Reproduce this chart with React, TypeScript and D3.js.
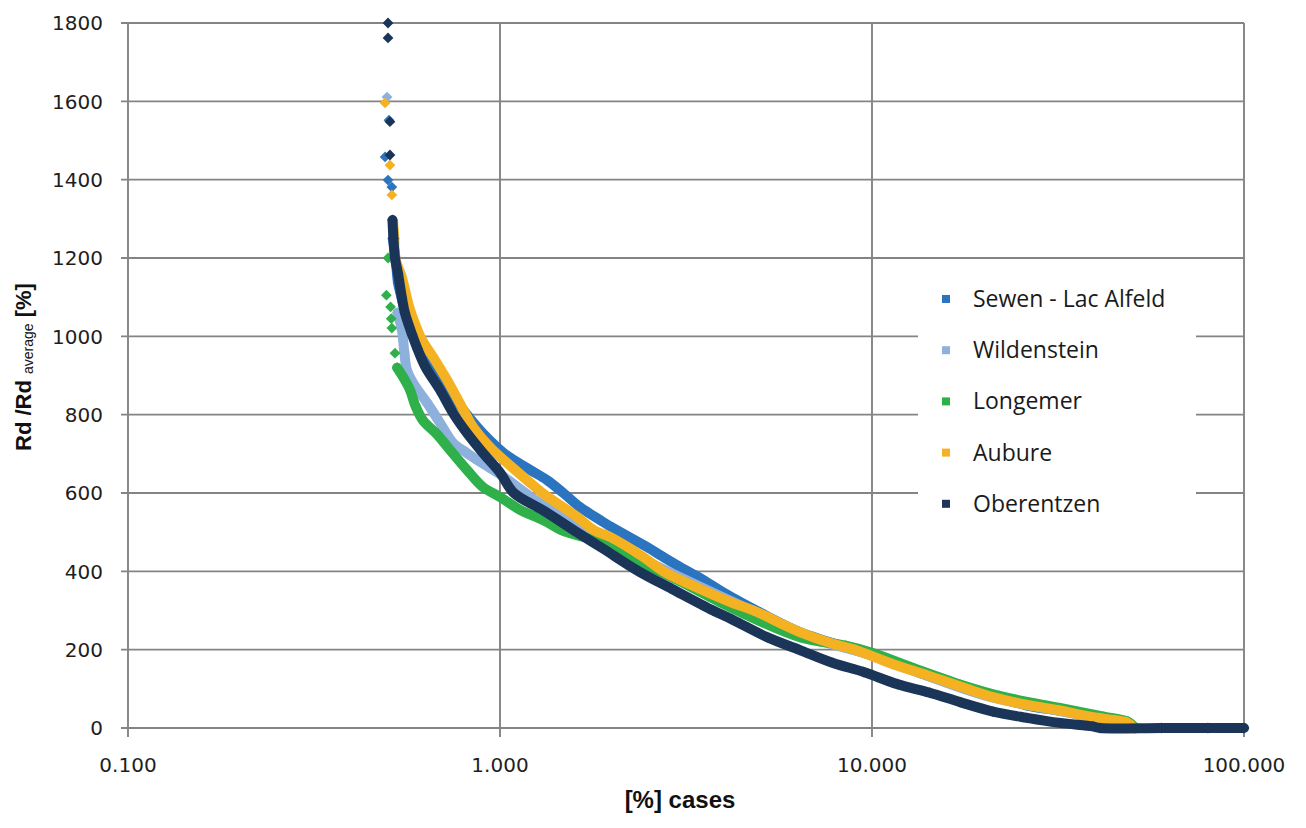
import React, { useEffect, useRef } from "react";
import * as d3 from "d3";

type Pt = [number, number];

const seriesNames = ["Sewen - Lac Alfeld", "Wildenstein", "Longemer", "Aubure", "Oberentzen"];
const seriesColors = ["#2a74c0", "#8db0dc", "#2fb04a", "#f4b223", "#1b3559"];

const xTickValues = [0.1, 1, 10, 100];
const xTickLabels = ["0.100", "1.000", "10.000", "100.000"];
const yTickValues = [0, 200, 400, 600, 800, 1000, 1200, 1400, 1600, 1800];

// [% cases, Rd/Rd average %] - isolated points at the top, then the dense run
const sewenPeaks: Pt[] = [[0.503, 1552], [0.491, 1458], [0.5, 1399], [0.512, 1381]];
const sewenCurve: Pt[] = [
  [0.515, 1250], [0.525, 1190], [0.532, 1136], [0.54, 1110], [0.552, 1075], [0.57, 1040],
  [0.6, 990], [0.65, 935], [0.72, 870], [0.815, 800], [0.9, 752], [1.03, 700], [1.2, 660],
  [1.338, 633], [1.48, 600], [1.64, 564], [1.857, 531], [2.01, 511], [2.485, 462],
  [2.743, 437], [3.05, 411], [3.45, 383], [4.0, 345], [5.0, 295], [6.4, 245], [9.5, 192],
  [13.5, 140], [19, 95], [26, 58], [33, 42], [42, 22], [48, 10], [51, 0],
];

const wildensteinPeaks: Pt[] = [[0.497, 1611]];
const wildensteinCurve: Pt[] = [
  [0.53, 1060], [0.545, 1016], [0.553, 960], [0.562, 914], [0.584, 881], [0.637, 830],
  [0.69, 779], [0.748, 728], [0.815, 702], [0.9, 675], [1.0, 648], [1.3, 570], [2.0, 470],
  [3.0, 388], [5.0, 290], [7.0, 228], [10, 185], [20, 84], [35, 36], [50, 0],
];

const longemerPeaks: Pt[] = [
  [0.5, 1200], [0.495, 1105], [0.508, 1075], [0.51, 1045], [0.512, 1021], [0.522, 957],
];
const longemerCurve: Pt[] = [
  [0.529, 920], [0.549, 896], [0.573, 863], [0.591, 825], [0.621, 785], [0.677, 750],
  [0.734, 710], [0.815, 659], [0.9, 615], [1.0, 590], [1.132, 557], [1.305, 531],
  [1.48, 503], [1.8, 478], [2.3, 430], [3.0, 378], [4.23, 305], [6.4, 232], [8.5, 210],
  [10, 192], [13, 152], [17.25, 111], [22, 82], [32, 51], [42, 29], [48.8, 16], [51, 0],
];

const aubourePeaks: Pt[] = [[0.491, 1596], [0.506, 1437], [0.512, 1361]];
const aubureCurve: Pt[] = [
  [0.516, 1290], [0.52, 1250], [0.522, 1203], [0.545, 1150], [0.555, 1120], [0.57, 1075],
  [0.59, 1034], [0.617, 991], [0.661, 947], [0.72, 889], [0.8, 810], [0.846, 769],
  [0.94, 717], [1.044, 677], [1.182, 633], [1.3, 600], [1.611, 539], [1.79, 505],
  [1.976, 488], [2.424, 437], [2.75, 400], [3.45, 355], [4.23, 319], [4.8, 300], [6.4, 245],
  [7.856, 215], [9.0, 200], [11.4, 163], [14.06, 135], [18, 100], [21.15, 79], [26.11, 59],
  [32, 45], [39, 28], [45, 20], [48.5, 14], [50.5, 0],
];

const oberentzenPeaks: Pt[] = [[0.5, 1800], [0.5, 1762], [0.506, 1548], [0.506, 1463]];
const oberentzenCurve: Pt[] = [
  [0.514, 1297], [0.517, 1250], [0.522, 1200], [0.532, 1160], [0.545, 1098], [0.555, 1060],
  [0.58, 1005], [0.6, 968], [0.63, 922], [0.69, 863], [0.748, 804], [0.815, 753], [0.9, 702],
  [1.0, 652], [1.09, 600], [1.305, 556], [1.61, 500], [1.892, 458], [2.36, 400], [2.9, 355],
  [3.74, 300], [4.23, 276], [5.221, 232], [6.4, 199], [7.856, 166], [9.5, 143], [11.7, 112],
  [14.3, 90], [17.25, 66], [21.15, 42], [26.11, 26], [32, 13], [39.27, 4], [41, 0], [60, 0],
  [80, 0], [100, 0],
];

function App() {
  const ref = useRef<SVGSVGElement>(null);

  useEffect(() => {
    const svg = d3.select(ref.current);
    svg.selectAll("*").remove();

    const left = 128, right = 1244, top = 23, bottom = 728;
    const x = d3.scaleLog().domain([0.1, 100]).range([left, right]);
    const y = d3.scaleLinear().domain([0, 1800]).range([bottom, top]);
    const gridColor = "#848484";
    const tickFont = "'DejaVu Sans', Verdana, sans-serif";

    svg.append("rect").attr("width", 1306).attr("height", 828).attr("fill", "#fff");

    // horizontal gridlines + y tick marks
    svg.append("g")
      .selectAll("line")
      .data(yTickValues)
      .join("line")
      .attr("x1", left - 7)
      .attr("x2", right)
      .attr("y1", (d) => y(d))
      .attr("y2", (d) => y(d))
      .attr("stroke", gridColor)
      .attr("stroke-width", 1.9);

    // vertical gridlines + x tick marks
    svg.append("g")
      .selectAll("line")
      .data(xTickValues)
      .join("line")
      .attr("x1", (d) => x(d))
      .attr("x2", (d) => x(d))
      .attr("y1", top)
      .attr("y2", bottom + 9)
      .attr("stroke", gridColor)
      .attr("stroke-width", 1.9);

    svg.append("g")
      .selectAll("text")
      .data(yTickValues)
      .join("text")
      .attr("x", 103)
      .attr("y", (d) => y(d))
      .attr("dy", "0.36em")
      .attr("text-anchor", "end")
      .attr("font-family", tickFont)
      .attr("font-size", 20)
      .attr("fill", "#1e1e1e")
      .text((d) => String(d));

    svg.append("g")
      .selectAll("text")
      .data(xTickValues)
      .join("text")
      .attr("x", (d) => x(d))
      .attr("y", 772)
      .attr("text-anchor", "middle")
      .attr("font-family", tickFont)
      .attr("font-size", 20)
      .attr("fill", "#1e1e1e")
      .text((d, i) => xTickLabels[i]);

    // axis titles
    svg.append("text")
      .attr("x", 680)
      .attr("y", 808)
      .attr("text-anchor", "middle")
      .attr("font-family", "'Liberation Sans', Arial, sans-serif")
      .attr("font-weight", "bold")
      .attr("font-size", 24)
      .attr("fill", "#111")
      .text("[%] cases");

    const yt = svg.append("text")
      .attr("transform", "translate(31,367) rotate(-90)")
      .attr("text-anchor", "middle")
      .attr("font-family", "'Liberation Sans', Arial, sans-serif")
      .attr("font-weight", "bold")
      .attr("font-size", 22)
      .attr("fill", "#111");
    yt.append("tspan").text("Rd /Rd ");
    yt.append("tspan").attr("font-size", 14).attr("font-weight", "normal").attr("dy", 2).text("average");
    yt.append("tspan").attr("dy", -2).text(" [%]");

    // series
    const series = [
      { peaks: sewenPeaks, curve: sewenCurve },
      { peaks: wildensteinPeaks, curve: wildensteinCurve },
      { peaks: longemerPeaks, curve: longemerCurve },
      { peaks: aubourePeaks, curve: aubureCurve },
      { peaks: oberentzenPeaks, curve: oberentzenCurve },
    ].map((s, i) => ({ ...s, name: seriesNames[i], color: seriesColors[i] }));

    const line = d3.line<Pt>()
      .x((d) => x(d[0]))
      .y((d) => y(d[1]))
      .curve(d3.curveCatmullRom.alpha(0.5));
    const marker = d3.symbol().type(d3.symbolSquare).size(58);

    series.forEach((s) => {
      const g = svg.append("g");
      g.append("path")
        .datum(s.curve)
        .attr("d", line)
        .attr("fill", "none")
        .attr("stroke", s.color)
        .attr("stroke-width", 10)
        .attr("stroke-linejoin", "round")
        .attr("stroke-linecap", "round");
      g.selectAll("path.mk")
        .data([...s.peaks, ...s.curve])
        .join("path")
        .attr("class", "mk")
        .attr("d", marker)
        .attr("transform", (d) => `translate(${x(d[0])},${y(d[1])}) rotate(45)`)
        .attr("fill", s.color);
    });

    // legend
    const lg = svg.append("g");
    lg.append("rect").attr("x", 918).attr("y", 272).attr("width", 278).attr("height", 256).attr("fill", "#fff");
    const rows = lg.selectAll("g.row")
      .data(series)
      .join("g")
      .attr("class", "row")
      .attr("transform", (d, i) => `translate(946,${299 + i * 51.2})`);
    rows.append("rect").attr("x", -4).attr("y", -4).attr("width", 8).attr("height", 8).attr("fill", (d) => d.color);
    rows.append("text")
      .attr("x", 27)
      .attr("dy", "0.35em")
      .attr("font-family", "'Open Sans', sans-serif")
      .attr("font-size", 23)
      .attr("fill", "#1a1a1a")
      .text((d) => d.name);
  }, []);

  return (
    <svg
      ref={ref}
      width={1306}
      height={828}
      style={{ position: "absolute", left: 0, top: 0 }}
    />
  );
}

export default App;
